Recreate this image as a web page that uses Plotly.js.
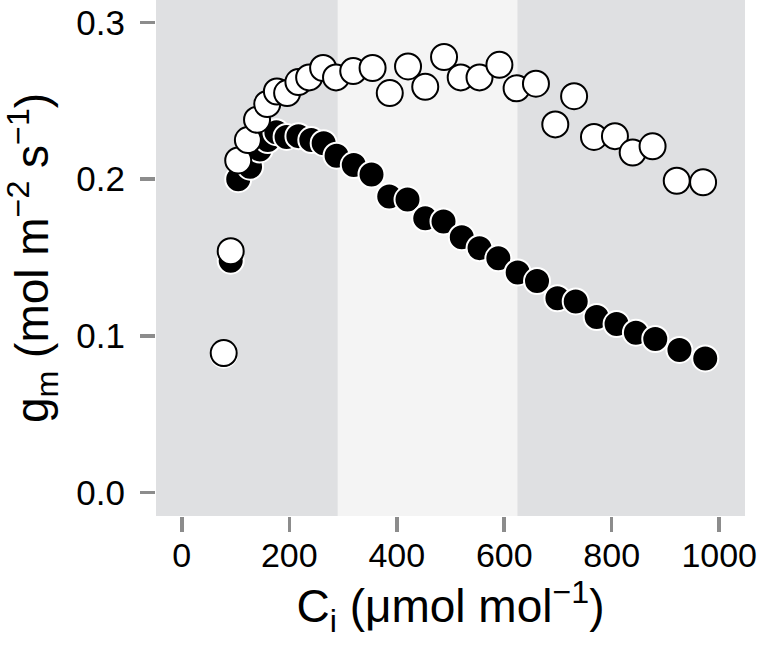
<!DOCTYPE html>
<html>
<head>
<meta charset="utf-8">
<script src="https://cdn.plot.ly/plotly-3.0.1.min.js"></script>
<style>html,body{margin:0;padding:0;background:#fff;}#chart{width:758px;height:646px;}</style>
</head>
<body>
<div id="chart"></div>
<script>
// Filled circles
var ciFilled = [78, 91, 105, 127, 145, 160, 176, 195, 217, 241, 264, 288, 320, 353, 386, 420, 453, 487, 521, 554, 589, 625, 661, 699, 733, 772, 809, 845, 881, 926, 974];
var gmFilled = [0.088, 0.148, 0.200, 0.208, 0.219, 0.225, 0.230, 0.227, 0.2275, 0.225, 0.223, 0.215, 0.209, 0.203, 0.189, 0.187, 0.175, 0.173, 0.163, 0.156, 0.1495, 0.1405, 0.135, 0.124, 0.122, 0.112, 0.1075, 0.102, 0.098, 0.091, 0.0856];
// Open circles
var ciOpen = [78, 91, 105, 123, 140, 159, 177, 196, 217, 237, 263, 287, 319, 355, 387, 421, 453, 488, 519, 554, 591, 623, 659, 695, 730, 767, 806, 839, 876, 921, 970];
var gmOpen = [0.089, 0.154, 0.212, 0.225, 0.238, 0.248, 0.256, 0.255, 0.262, 0.265, 0.271, 0.265, 0.269, 0.271, 0.255, 0.272, 0.259, 0.278, 0.265, 0.265, 0.273, 0.258, 0.261, 0.235, 0.253, 0.227, 0.2275, 0.217, 0.221, 0.199, 0.198];
// Background bands (Ci boundaries)
var bandEdges = [-48, 290, 625, 1048];
var xTicks = [0, 200, 400, 600, 800, 1000];
var yTicks = [0.0, 0.1, 0.2, 0.3];
var yTickText = ["0.0", "0.1", "0.2", "0.3"];

var bandColors = ["#dfe0e2", "#f4f4f4", "#dfe0e2"];
var shapes = [];
for (var i = 0; i < bandColors.length; i++) {
  shapes.push({type: "rect", xref: "x", yref: "paper", x0: bandEdges[i], x1: bandEdges[i+1], y0: 0, y1: 1,
    fillcolor: bandColors[i], line: {width: 0}, layer: "below"});
}

var traces = [
  {x: ciFilled, y: gmFilled, type: "scatter", mode: "markers",
   marker: {size: 26, color: "#000000", line: {color: "#ffffff", width: 2}}},
  {x: ciOpen, y: gmOpen, type: "scatter", mode: "markers",
   marker: {size: 26, color: "#ffffff", line: {color: "#000000", width: 2}}}
];

var fontFam = "Liberation Sans, Arial, sans-serif";
var layout = {
  width: 758, height: 646,
  margin: {l: 156, r: 13, t: 0, b: 130},
  paper_bgcolor: "#ffffff",
  plot_bgcolor: "#dfe0e2",
  showlegend: false,
  shapes: shapes,
  font: {family: fontFam, color: "#000"},
  xaxis: {
    range: [bandEdges[0], bandEdges[3]],
    tickvals: xTicks, ticktext: xTicks.map(String),
    ticks: "outside", ticklen: 15, tickwidth: 3.5, tickcolor: "#8c8c8c",
    ticklabelstandoff: -6, ticklabeloverflow: "allow",
    showgrid: false, zeroline: false, showline: false,
    tickfont: {size: 34, family: fontFam, color: "#000"},
    title: {text: "C<sub>i</sub> (μmol mol<sup>−1</sup>)", font: {size: 46, family: fontFam, color: "#000"}, standoff: 14}
  },
  yaxis: {
    range: [-0.015, 0.3144],
    tickvals: yTicks, ticktext: yTickText,
    ticks: "outside", ticklen: 15, tickwidth: 3.5, tickcolor: "#8c8c8c",
    ticklabelstandoff: 8,
    showgrid: false, zeroline: false, showline: false,
    tickfont: {size: 35, family: fontFam, color: "#000"},
    title: {text: "g<sub>m</sub> (mol m<sup>−2</sup> s<sup>−1</sup>)", font: {size: 46, family: fontFam, color: "#000"}, standoff: 14}
  }
};

Plotly.newPlot("chart", traces, layout, {displayModeBar: false, staticPlot: true});
</script>
</body>
</html>
